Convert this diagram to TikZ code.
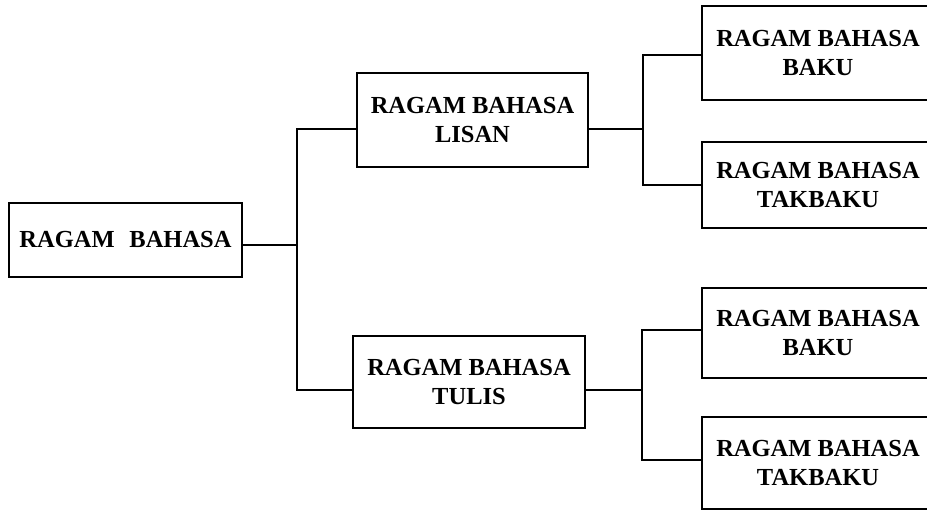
\documentclass[tikz,border=0pt]{standalone}
\usepackage{fontspec}
\setmainfont{Liberation Serif}
\usetikzlibrary{calc}
\begin{document}
\begin{tikzpicture}[x=1pt,y=-1pt,
  box/.style={draw=black,line width=2.8pt,rectangle,inner sep=0pt,
    align=center,font=\fontsize{24.5}{29.5}\selectfont\bfseries},
  link/.style={draw=black,line width=2.3pt}]
  % page area; everything beyond it is cut off
  \clip (0,0) rectangle (927,511);
  \fill[white] (0,0) rectangle (927,511);

  % main categories
  \node[box,minimum width=233pt,minimum height=74pt] (root) at (125.5,240) {RAGAM\hspace{0.6em}BAHASA};
  \node[box,minimum width=231pt,minimum height=94pt] (lisan) at (472.5,120) {RAGAM BAHASA\\LISAN};
  \node[box,minimum width=232pt,minimum height=92pt] (tulis) at (469,382) {RAGAM BAHASA\\TULIS};

  % sub categories, running past the right edge
  \node[box,minimum width=232pt,minimum height=94pt] (b1) at (818,53) {RAGAM BAHASA\\BAKU};
  \node[box,minimum width=232pt,minimum height=86pt] (b2) at (818,185) {RAGAM BAHASA\\TAKBAKU};
  \node[box,minimum width=232pt,minimum height=90pt] (b3) at (818,333) {RAGAM BAHASA\\BAKU};
  \node[box,minimum width=232pt,minimum height=92pt] (b4) at (818,463) {RAGAM BAHASA\\TAKBAKU};

  % junction points of the brackets
  \coordinate (j0) at (297,245);
  \coordinate (j1) at (643,129);
  \coordinate (j2) at (642,390);

  % root to the spoken and written branches
  \draw[link] ([yshift=-5pt]root.east) -- (j0);
  \draw[link] ([yshift=-9pt]lisan.west) -| (j0) |- ([yshift=-8pt]tulis.west);

  % spoken branch
  \draw[link] ([yshift=-9pt]lisan.east) -- (j1);
  \draw[link] ([yshift=-2pt]b1.west) -| (j1) |- (b2.west);

  % written branch
  \draw[link] ([yshift=-8pt]tulis.east) -- (j2);
  \draw[link] ([yshift=3pt]b3.west) -| (j2) |- ([yshift=3pt]b4.west);
\end{tikzpicture}
\end{document}
